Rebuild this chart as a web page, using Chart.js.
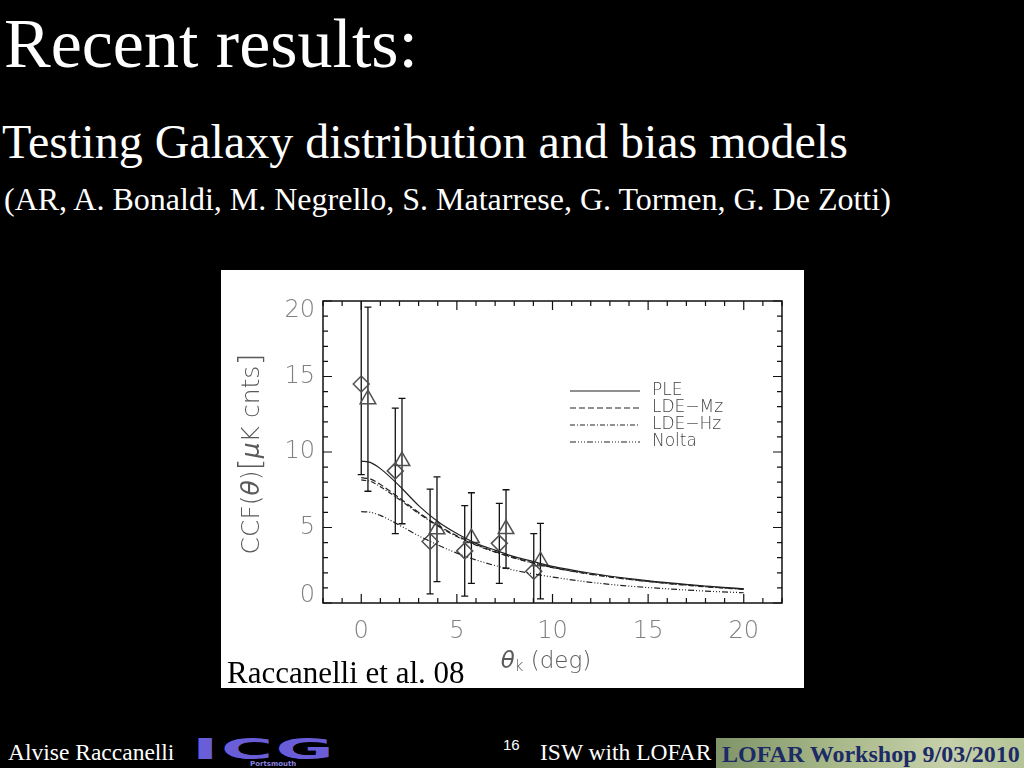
<!DOCTYPE html>
<html>
<head>
<meta charset="utf-8">
<script src="https://cdn.jsdelivr.net/npm/chart.js@4.4.1/dist/chart.umd.min.js"></script>
<style>
  html, body { margin: 0; padding: 0; background: #000; }
  body { width: 1024px; height: 768px; position: relative; overflow: hidden;
         font-family: "Liberation Serif", "Times New Roman", serif; color: #fff; }
  .t { position: absolute; white-space: nowrap; line-height: 1; }
  #title { left: 4px; top: 9px; font-size: 70px; }
  #sub { left: 2px; top: 118px; font-size: 48px; }
  #authors { left: 4px; top: 183px; font-size: 32px; }
  #panel { position: absolute; left: 221px; top: 270px; width: 583px; height: 418px; background: #fff; }
  #panel canvas { display: block; }
  #cite { left: 227px; top: 657px; font-size: 31px; color: #000; }
  #who { left: 8px; top: 741px; font-size: 23.5px; }
  #logo { position: absolute; left: 192px; top: 735px; width: 150px; height: 33px; }
  #logo .big { position: absolute; left: 0; top: 0; font: 900 29px "DejaVu Sans", sans-serif;
               color: #6a5ed8; letter-spacing: 1px; transform: scaleX(2.45); transform-origin: left top;
               line-height: 1; }
  #logo .small { position: absolute; left: 58px; top: 25px; font: bold 7px "DejaVu Sans", sans-serif; color: #8a80e0; }
  #page { left: 503px; top: 736px; font: 15px "Liberation Sans", sans-serif; }
  #isw { left: 540px; top: 741px; font-size: 23.5px; }
  #lofar { position: absolute; left: 716px; top: 738px; width: 308px; height: 30px;
           background: linear-gradient(90deg, #7f9468 0%, #a9b98a 40%, #c6d0aa 75%, #b4c496 100%); }
  #lofar span { position: absolute; left: 6px; top: 4px; font: bold 24px "Liberation Serif", serif;
                color: #1c2a66; white-space: nowrap; line-height: 1; }
</style>
</head>
<body>
<div class="t" id="title">Recent results:</div>
<div class="t" id="sub">Testing Galaxy distribution and bias models</div>
<div class="t" id="authors">(AR, A. Bonaldi, M. Negrello, S. Matarrese, G. Tormen, G. De Zotti)</div>

<div id="panel"><canvas id="ccf" width="583" height="418"></canvas></div>
<div class="t" id="cite">Raccanelli et al. 08</div>

<div class="t" id="who">Alvise Raccanelli</div>
<div id="logo"><span class="big">ICG</span><span class="small">Portsmouth</span></div>
<div class="t" id="page">16</div>
<div class="t" id="isw">ISW with LOFAR</div>
<div id="lofar"><span>LOFAR Workshop 9/03/2010</span></div>

<script>
  // model curves
  const curveX = [0, 0.5, 1, 2, 3, 4, 5, 6, 7, 8, 9, 10, 12, 14, 16, 18, 20];
  const pleY   = [9.4, 9.3, 8.9, 7.75, 6.45, 5.4, 4.6, 3.95, 3.5, 3.07, 2.74, 2.42, 1.97, 1.62, 1.35, 1.12, 0.95];
  const ldeMzY = [8.3, 8.2, 7.85, 6.95, 6.0, 5.15, 4.45, 3.87, 3.4, 3.0, 2.66, 2.36, 1.92, 1.58, 1.31, 1.09, 0.92];
  const ldeHzY = [8.15, 8.05, 7.7, 6.85, 5.93, 5.1, 4.4, 3.83, 3.37, 2.97, 2.63, 2.34, 1.9, 1.56, 1.29, 1.07, 0.9];
  const noltaY = [6.05, 6.0, 5.8, 5.15, 4.45, 3.85, 3.3, 2.85, 2.48, 2.17, 1.93, 1.72, 1.37, 1.12, 0.94, 0.79, 0.68];

  // measured points (diamonds / triangles) with 1-sigma errors
  const diamondX   = [0, 1.78, 3.6, 5.41, 7.22, 9.02];
  const diamondY   = [14.5, 8.75, 4.07, 3.45, 3.95, 2.1];
  const diamondErr = [6.0, 4.15, 3.47, 3.0, 2.65, 2.5];
  const triangleX   = [0.35, 2.13, 3.96, 5.76, 7.57, 9.37];
  const triangleY   = [13.5, 9.4, 4.88, 4.3, 4.9, 2.77];
  const triangleErr = [6.1, 4.15, 3.47, 3.0, 2.6, 2.5];

  const xTickVals = [0, 5, 10, 15, 20];
  const xTickLabels = ['0', '5', '10', '15', '20'];
  const yTickVals = [0, 5, 10, 15, 20];
  const yTickLabels = ['0', '5', '10', '15', '20'];
  const seriesNames = ['PLE', 'LDE\u2212Mz', 'LDE\u2212Hz', 'Nolta'];

  const SANS = '"DejaVu Sans", "Liberation Sans", sans-serif';

  function toPoints(xs, ys) {
    return xs.map((x, i) => ({ x, y: ys[i] }));
  }

  function curve(label, ys, dash) {
    return {
      label,
      data: toPoints(curveX, ys),
      showLine: true,
      borderColor: '#222',
      borderWidth: 1.2,
      borderDash: dash,
      pointRadius: 0,
      cubicInterpolationMode: 'monotone',
    };
  }

  const dashes = [[], [6, 3], [5, 2, 1, 2], [6, 2, 1, 2, 1, 2, 1, 2]];

  function drawErrors(chart, xs, ys, errs) {
    const ctx = chart.ctx;
    const sx = chart.scales.x, sy = chart.scales.y;
    xs.forEach((x, i) => {
      const px = sx.getPixelForValue(x);
      const top = sy.getPixelForValue(ys[i] + errs[i]);
      const bot = sy.getPixelForValue(ys[i] - errs[i]);
      ctx.beginPath();
      ctx.moveTo(px, top); ctx.lineTo(px, bot);
      ctx.moveTo(px - 3.5, top); ctx.lineTo(px + 3.5, top);
      ctx.moveTo(px - 3.5, bot); ctx.lineTo(px + 3.5, bot);
      ctx.stroke();
    });
  }

  // IDL-like box: inward ticks on all four sides, hand placed labels
  const idlFrame = {
    id: 'idlFrame',
    beforeDatasetsDraw(chart) {
      const { ctx, chartArea: a } = chart;
      ctx.save();
      ctx.beginPath();
      ctx.rect(a.left, a.top, a.right - a.left, a.bottom - a.top);
      ctx.clip();
      ctx.strokeStyle = '#111';
      ctx.lineWidth = 1.3;
      drawErrors(chart, diamondX, diamondY, diamondErr);
      drawErrors(chart, triangleX, triangleY, triangleErr);
      ctx.restore();
    },
    afterDraw(chart) {
      const { ctx, chartArea: a } = chart;
      const sx = chart.scales.x, sy = chart.scales.y;
      ctx.save();
      ctx.strokeStyle = '#111';
      ctx.lineWidth = 1.5;
      ctx.strokeRect(a.left, a.top, a.right - a.left, a.bottom - a.top);

      ctx.lineWidth = 1.2;
      ctx.beginPath();
      for (let v = Math.ceil(sx.min); v <= sx.max; v++) {
        const len = v % 5 === 0 ? 9 : 5;
        const px = sx.getPixelForValue(v);
        ctx.moveTo(px, a.bottom); ctx.lineTo(px, a.bottom - len);
        ctx.moveTo(px, a.top); ctx.lineTo(px, a.top + len);
      }
      for (let v = Math.ceil(sy.min); v <= sy.max; v++) {
        const len = v % 5 === 0 ? 9 : 5;
        const py = sy.getPixelForValue(v);
        ctx.moveTo(a.left, py); ctx.lineTo(a.left + len, py);
        ctx.moveTo(a.right, py); ctx.lineTo(a.right - len, py);
      }
      ctx.stroke();

      // tick labels
      ctx.fillStyle = '#808080';
      ctx.font = '200 24px ' + SANS;
      ctx.textBaseline = 'middle';
      ctx.textAlign = 'right';
      yTickVals.forEach((v, i) => {
        const py = Math.min(Math.max(sy.getPixelForValue(v), a.top + 10), a.bottom - 7);
        ctx.fillText(yTickLabels[i], a.left - 8, py);
      });
      ctx.textAlign = 'center';
      xTickVals.forEach((v, i) => {
        ctx.fillText(xTickLabels[i], sx.getPixelForValue(v), a.bottom + 29);
      });

      // y title, rotated
      ctx.fillStyle = '#5a5a5a';
      const yParts = [
        ['CCF(', '200 25px ' + SANS, 0],
        ['\u03b8', 'italic 25px ' + SANS, 0],
        [')', '200 25px ' + SANS, 0],
        ['[', '200 31px ' + SANS, 0],
        ['\u03bc', 'italic 25px ' + SANS, 0],
        ['K cnts', '200 25px ' + SANS, 0],
        [']', '200 31px ' + SANS, 0],
      ];
      let total = 0;
      yParts.forEach(p => { ctx.font = p[1]; p[2] = ctx.measureText(p[0]).width; total += p[2]; });
      ctx.translate(31, 184);
      ctx.rotate(-Math.PI / 2);
      ctx.textAlign = 'left';
      let cx = -total / 2;
      yParts.forEach(p => { ctx.font = p[1]; ctx.fillText(p[0], cx, 0); cx += p[2]; });
      ctx.setTransform(1, 0, 0, 1, 0, 0);

      // x title
      const xParts = [
        ['\u03b8', 'italic 23px ' + SANS, 0, 0],
        ['k', '200 15px ' + SANS, 0, 5],
        [' (deg)', '200 23px ' + SANS, 0, 0],
      ];
      total = 0;
      xParts.forEach(p => { ctx.font = p[1]; p[2] = ctx.measureText(p[0]).width; total += p[2]; });
      cx = 325 - total / 2;
      xParts.forEach(p => { ctx.font = p[1]; ctx.fillText(p[0], cx, 392 + p[3]); cx += p[2]; });

      // legend
      const ds = chart.data.datasets;
      ctx.font = '200 17px ' + SANS;
      ctx.fillStyle = '#444';
      seriesNames.forEach((name, i) => {
        const ly = 121 + i * 17;
        ctx.strokeStyle = ds[i].borderColor;
        ctx.lineWidth = 1.2;
        ctx.setLineDash(ds[i].borderDash);
        ctx.beginPath();
        ctx.moveTo(349, ly); ctx.lineTo(419, ly);
        ctx.stroke();
        ctx.setLineDash([]);
        ctx.fillText(name, 431, ly);
      });
      ctx.restore();
    },
  };

  new Chart(document.getElementById('ccf'), {
    type: 'scatter',
    data: {
      datasets: [
        curve(seriesNames[0], pleY, dashes[0]),
        curve(seriesNames[1], ldeMzY, dashes[1]),
        curve(seriesNames[2], ldeHzY, dashes[2]),
        curve(seriesNames[3], noltaY, dashes[3]),
        {
          label: 'diamonds',
          data: toPoints(diamondX, diamondY),
          pointStyle: 'rectRot',
          pointRadius: 8,
          borderColor: '#505050',
          backgroundColor: 'rgba(0,0,0,0)',
          borderWidth: 1.5,
        },
        {
          label: 'triangles',
          data: toPoints(triangleX, triangleY),
          pointStyle: 'triangle',
          pointRadius: 9,
          borderColor: '#505050',
          backgroundColor: 'rgba(0,0,0,0)',
          borderWidth: 1.5,
        },
      ],
    },
    options: {
      responsive: false,
      animation: false,
      events: [],
      layout: { padding: { top: 31, right: 22, left: 0, bottom: 0 } },
      plugins: { legend: { display: false }, tooltip: { enabled: false } },
      scales: {
        x: {
          type: 'linear', min: -2, max: 22,
          grid: { display: false }, border: { display: false }, ticks: { display: false },
          afterFit(s) { s.height = 85; },
        },
        y: {
          type: 'linear', min: 0, max: 20,
          grid: { display: false }, border: { display: false }, ticks: { display: false },
          afterFit(s) { s.width = 102; },
        },
      },
    },
    plugins: [idlFrame],
  });
</script>
</body>
</html>
